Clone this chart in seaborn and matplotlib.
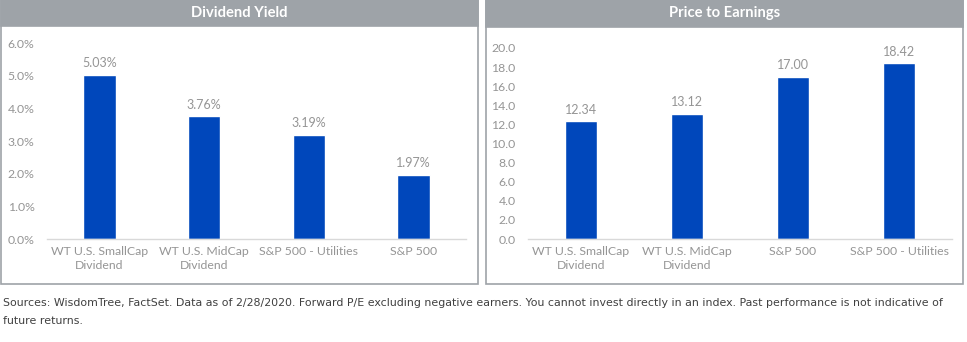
import matplotlib
matplotlib.use("Agg")
import matplotlib.pyplot as plt
import matplotlib.patches as mpatches
from matplotlib.ticker import FuncFormatter
import seaborn as sns
import pandas as pd

# data
dy_labels = ["WT U.S. SmallCap\nDividend", "WT U.S. MidCap\nDividend", "S&P 500 - Utilities", "S&P 500"]
dy_values = [5.03, 3.76, 3.19, 1.97]
pe_labels = ["WT U.S. SmallCap\nDividend", "WT U.S. MidCap\nDividend", "S&P 500", "S&P 500 - Utilities"]
pe_values = [12.34, 13.12, 17.00, 18.42]

BLUE = "#0047BB"
HEAD = "#9EA3A8"
TXT = "#959595"

sns.set_theme(style="white")
plt.rcParams["font.family"] = ["Lato", "DejaVu Sans"]

W, H = 967, 342
fig = plt.figure(figsize=(W / 100, H / 100), dpi=100)


def px_axes(x0, y0, x1, y1):
    # pixel box (top-left origin) -> figure fraction
    return fig.add_axes([x0 / W, 1 - y1 / H, (x1 - x0) / W, (y1 - y0) / H])


def panel(x0, x1, y_bottom, head_h, title):
    fig.patches.append(mpatches.Rectangle((x0 / W, 1 - y_bottom / H), (x1 - x0) / W, y_bottom / H,
                                          transform=fig.transFigure, fill=False,
                                          edgecolor=HEAD, linewidth=1.2))
    fig.patches.append(mpatches.Rectangle((x0 / W, 1 - head_h / H), (x1 - x0) / W, head_h / H,
                                          transform=fig.transFigure, facecolor=HEAD,
                                          edgecolor=HEAD, linewidth=1.2))
    fig.text((x0 + x1) / 2 / W, 1 - head_h / 2 / H, title, color="white", fontsize=10.6,
             fontweight="bold", ha="center", va="center")


def bars(ax, labels, values, top, step, fmt, lab_fmt):
    df = pd.DataFrame({"name": labels, "val": values})
    sns.barplot(data=df, x="name", y="val", color=BLUE, width=0.31, ax=ax, saturation=1)
    ax.set_xlim(-0.5, len(labels) - 0.5)
    ax.set_ylim(0, top)
    ax.set_yticks([i * step for i in range(int(round(top / step)) + 1)])
    ax.yaxis.set_major_formatter(FuncFormatter(fmt))
    ax.set_xlabel("")
    ax.set_ylabel("")
    for s in ["top", "right", "left"]:
        ax.spines[s].set_visible(False)
    ax.spines["bottom"].set_color("#D9D9D9")
    ax.spines["bottom"].set_linewidth(1)
    ax.tick_params(axis="both", length=0, colors=TXT, labelsize=8.8)
    ax.tick_params(axis="y", pad=9)
    ax.tick_params(axis="x", pad=5)
    for t in ax.get_xticklabels():
        t.set_linespacing(1.3)
    ax.bar_label(ax.containers[0], labels=[lab_fmt(v) for v in values],
                 padding=4, color=TXT, fontsize=9)
    ax.set_facecolor("white")


panel(1, 478, 284, 26, "Dividend Yield")
panel(486, 963, 284, 27, "Price to Earnings")

ax1 = px_axes(47, 43, 466, 239)
bars(ax1, dy_labels, dy_values, 6, 1, lambda v, p: f"{v:.1f}%", lambda v: f"{v:.2f}%")

ax2 = px_axes(528, 48, 952, 239)
bars(ax2, pe_labels, pe_values, 20, 2, lambda v, p: f"{v:.1f}", lambda v: f"{v:.2f}")

foot = ("Sources: WisdomTree, FactSet. Data as of 2/28/2020. Forward P/E excluding negative earners. "
        "You cannot invest directly in an index. Past performance is not indicative of\nfuture returns.")
fig.text(3 / W, 1 - 298 / H, foot, color="#404040", fontsize=7.9, ha="left", va="top",
         linespacing=2.05, family=["DejaVu Sans"])

fig.savefig("out.png", dpi=100, facecolor="white")
